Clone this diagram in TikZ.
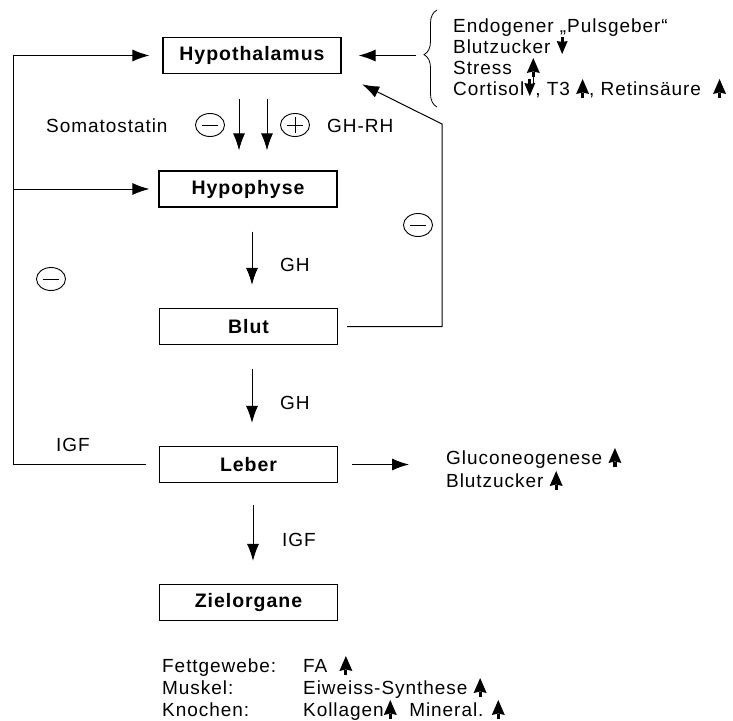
\documentclass[tikz,border=0pt]{standalone}
\usepackage{fontspec}
\setmainfont{Liberation Sans}[LetterSpace=5]
\usetikzlibrary{arrows.meta}
\usetikzlibrary{decorations.pathreplacing}

% kleine Pfeile im Text
\newcommand{\hoch}{\tikz[x=1pt,y=1pt,baseline=0pt]{\fill (-1.6,-3) rectangle (1.6,2); \fill (-6.5,1) -- (0,2.5) -- (6.5,1) -- (0,16) -- cycle;}}
\newcommand{\hochlang}{\tikz[x=1pt,y=1pt,baseline=0pt]{\fill (-1.6,-3) rectangle (1.6,2); \fill (-6.5,1) -- (0,2.5) -- (6.5,1) -- (0,16) -- cycle; \draw[line width=0.8pt] (0,-3) -- (0,-12);}}
\newcommand{\runter}{\tikz[x=1pt,y=1pt,baseline=0pt]{\fill (-1.4,11) rectangle (1.4,16); \fill (-5.5,12) -- (0,11) -- (5.5,12) -- (0,-1) -- cycle;}}

% Kreise mit Vorzeichen
\newcommand{\kreisminus}[1]{\begin{scope}[shift={#1}]
	\draw[kreis] (0,0) ellipse (14.5 and 11.5);
	\draw[kreis] (-8,0) -- (8,0);
\end{scope}}
\newcommand{\kreisplus}[1]{\begin{scope}[shift={#1}]
	\draw[kreis] (0,0) ellipse (14.5 and 11.5);
	\draw[kreis] (-8,0) -- (8,0);
	\draw[kreis] (0,-8) -- (0,8);
\end{scope}}

\tikzset{
	box/.style={draw, line width=1.2pt, minimum width=178pt, minimum height=36pt, inner sep=0pt, font=\bfseries\fontsize{19.5}{22}\selectfont},
	pfeil/.style={line width=1pt, -{Latex[length=17pt,width=12pt]}},
	linie/.style={line width=1pt},
	txt/.style={inner sep=0pt, anchor=base west, font=\fontsize{19}{21}\selectfont},
	kreis/.style={line width=0.9pt}
}

\begin{document}
\begin{tikzpicture}[x=1pt, y=-1pt]
	\useasboundingbox (0,0) rectangle (733,720);

	% Organe
	\node[box] (hypoth) at (252,55.5) {Hypothalamus};
	\node[box] (hypoph) at (248,189) {Hypophyse};
	\node[box] (blut) at (248.5,326.5) {Blut};
	\node[box] (leber) at (248.5,464.5) {Leber};
	\node[box] (ziel) at (248.5,602.5) {Zielorgane};

	% Achse nach unten
	\draw[pfeil, shorten <=25pt, shorten >=20pt] ([xshift=-13pt]hypoth.south) -- ([xshift=-13pt]hypoth.south |- hypoph.north);
	\draw[pfeil, shorten <=25pt, shorten >=20pt] ([xshift=15pt]hypoth.south) -- ([xshift=15pt]hypoth.south |- hypoph.north);
	\draw[pfeil, shorten <=24pt, shorten >=23pt] ([xshift=4pt]hypoph.south) -- ([xshift=4pt]hypoph.south |- blut.north);
	\draw[pfeil, shorten <=24pt, shorten >=23pt] ([xshift=3.5pt]blut.south) -- ([xshift=3.5pt]blut.south |- leber.north);
	\draw[pfeil, shorten <=22pt, shorten >=23pt] ([xshift=4.5pt]leber.south) -- ([xshift=4.5pt]leber.south |- ziel.north);

	% Beschriftung der Achse
	\node[txt] (somato) at (46,132) {Somatostatin};
	\node[txt] (ghrh) at (327,132) {GH-RH};
	\node[txt] (gh1) at (280,271) {GH};
	\node[txt] (gh2) at (280,409) {GH};
	\node[txt] (igf2) at (282,546) {IGF};
	\kreisminus{(210,125)}
	\kreisplus{(295,125)}

	% Rueckkopplung IGF
	\coordinate (igfecke) at (13,464.5);
	\draw[pfeil, shorten <=13pt, shorten >=13pt] (leber.west) -- (igfecke) |- (hypoth.west);
	\draw[pfeil, shorten >=9pt] (igfecke |- hypoph.west) -- (hypoph.west);
	\node[txt] (igf1) at (56,451) {IGF};
	\kreisminus{(51,279)}

	% Rueckkopplung Blut
	\coordinate (blutecke) at (442,124);
	\draw[pfeil, shorten <=9pt, shorten >=23pt] (blut.east) -| (blutecke) -- (hypoth.south east);
	\kreisminus{(418,225)}

	% Einfluesse auf den Hypothalamus
	\draw[line width=0.8pt, decorate, decoration={brace, amplitude=13pt, aspect=0.54}] (437,107) -- (437,10);
	\coordinate (klammer) at (416,55.5);
	\draw[pfeil, shorten >=17pt] (klammer) -- (hypoth.east);
	\node[txt] (puls) at (453,32) {Endogener „Pulsgeber“};
	\node[txt] (zucker) at (453,53) {Blutzucker \runter};
	\node[txt] (stress) at (453,74) {Stress\hspace{15pt}\hochlang};
	\node[txt] (cortisol) at (453,95) {Cortisol\runter, T3 \hoch, Retinsäure\hspace{12pt}\hoch};

	% Wirkung der Leber
	\node[txt] (gluco1) at (446,464) {Gluconeogenese \hoch};
	\node[txt] (gluco2) at (446,487) {Blutzucker \hoch};
	\draw[pfeil, shorten <=14pt, shorten >=37pt] (leber.east) -- (leber.east -| gluco1.west);

	% Wirkung an den Zielorganen
	\node[txt] (fett) at (162,672) {Fettgewebe:};
	\node[txt] (fa) at (303,672) {FA\hspace{12pt}\hoch};
	\node[txt] (muskel) at (162,694) {Muskel:};
	\node[txt] (eiweiss) at (303,694) {Eiweiss-Synthese \hoch};
	\node[txt] (knochen) at (162,716) {Knochen:};
	\node[txt] (kollagen) at (303,716) {Kollagen\hoch\ \ Mineral. \hoch};

\end{tikzpicture}
\end{document}
